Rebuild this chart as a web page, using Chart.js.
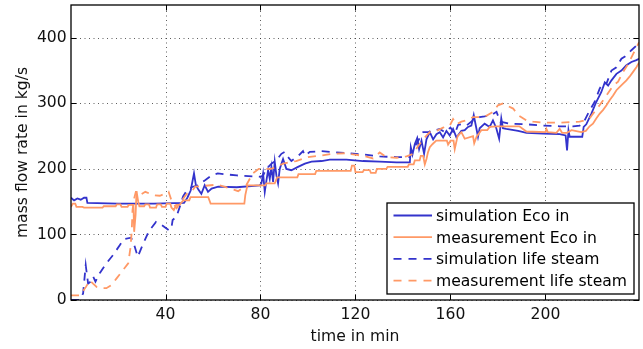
<!DOCTYPE html>
<html><head><meta charset="utf-8">
<script src="https://cdn.jsdelivr.net/npm/chart.js@4/dist/chart.umd.min.js"></script>
<style>html,body{margin:0;padding:0;background:#fff;}canvas{display:block;}</style>
</head><body>
<canvas id="c" width="643" height="349" style="width:643px;height:349px"></canvas>
<script>
// ---------- data ----------
const xTicks = [40, 80, 120, 160, 200];
const yTicks = [0, 100, 200, 300, 400];
const seriesNames = ['simulation Eco in', 'measurement Eco in', 'simulation life steam', 'measurement life steam'];

const simEcoT = [0.2,1.5,2.9,4.3,5.7,6.7,7.1,20,35,47.8,
  49.2,50.6,52,52.8,53.9,55.1,56.5,57.9,59.4,62.2,
  70,79.7,80.4,81.1,81.8,82.5,83.2,83.9,84.6,85.3,
  86,86.7,87.4,88.1,89.5,90.9,93,95.8,98.7,101.5,
  105.7,109.2,116.2,123.2,130.2,137.3,142.9,143.3,144,145,
  146,146.8,147.8,148.9,149.9,151.3,152.7,154.1,155.5,156.9,
  158.3,159.7,161.1,162.5,164.6,166,167.4,168.8,169.8,170.9,
  171.6,172.3,174.4,176.5,177.9,179.3,180.5,181.4,182.1,183.5,
  188.5,192,199,206,208.5,209.1,209.7,210.2,212.3,215.5,
  216.1,217.2,219.3,221.4,223.5,225,226.4,227.8,229.9,232,
  234.1,236.2,238.3,239.4];
const simEcoV = [156,152,155,153,156,156,148,147,147,148,
  156,167,193,175,168,162,175,165,170,173,
  172,175,178,193,165,182,198,185,203,180,
  211,190,178,200,215,200,198,203,208,211,
  212,214,214,212,211,210,210,233,222,238,
  247,230,243,223,245,256,245,253,256,248,
  258,251,261,248,258,259,264,266,282,262,
  249,262,269,264,274,262,246,277,262,261,
  258,255,254,253,251,228,259,249,249,249,
  264,268,284,302,317,332,327,335,345,350,
  358,363,366,368];

const measEcoT = [0.2,1,2,2.5,5,5.7,13.5,14,19,19.5,
  21,21.5,24,24.5,26.5,26.8,27.4,27.8,28.5,29,
  31,31.5,33,33.5,36,36.5,38,38.5,40,40.5,
  42,42.5,43.5,44.5,46,46.5,47.5,50,50.5,58,
  59,73.2,73.6,74.5,82,82.5,86,87,95.5,96,
  103,103.5,118,118.5,119.5,120,123,123.5,126,126.5,
  128.5,129,133,133.5,142,142.5,144.5,145,147,147.5,
  148.5,149.2,149.9,150.5,151.3,152.5,154,158.5,159,160,
  161.3,161.8,163,164.6,166,169.5,170,171,173,175.5,
  176.5,179.5,189,192,200,200.4,201,204.6,206,207,
  209,211,212.5,215.1,217,218.6,220,221.4,222.8,224.3,
  225.7,227.1,228.5,229.9,231.3,232.7,234.1,235.5,236.9,238.3,
  239.4];
const measEcoV = [142,147,147,142,142,141,141,143,143,146,
  146,142,142,145,145,104,130,166,150,143,
  143,146,146,141,141,146,146,142,142,147,
  147,141,137,145,145,148,152,152,157,157,
  147,147,160,175,175,178,178,187,187,192,
  192,197,197,205,205,195,195,198,198,194,
  194,200,200,203,203,207,207,213,213,220,
  220,207,215,225,233,238,243,243,237,243,
  243,230,250,256,246,250,239,249,259,259,
  264,265,265,257,256,261,256,255,261,255,
  255,259,258,256,258,265,269,277,284,290,
  297,305,312,320,325,330,335,341,348,355,
  362];

const simSteamT = [0.2,3.9,5.3,6.4,7.4,8.5,9.5,10.5,12.3,15.1,
  18,20.8,22.5,25.5,26.5,28.3,30.5,33,36,38.5,
  41.6,42.5,43,44.6,46,47.4,49,51,53.4,56.8,
  59.4,62,70,80,81.1,82.5,84.6,86.7,88.8,90.2,
  91.6,93,94.4,96.5,97.9,98.7,100.8,105.7,109.2,116.2,
  123.2,130.2,137.3,142.9,144.3,146.4,148.5,150.6,152.7,155.5,
  157.6,160,161.8,163.2,164.6,166.7,169.5,172.3,174.4,177.2,
  179.4,181,185,192,199,206,211.6,214.4,216.5,218.6,
  220.7,222.8,224.3,225.7,227.8,229.9,232,234.1,236.2,238.3,
  239.4];
const simSteamV = [0,0,10,53,25,28,36,28,41,56,
  69,84,93,95,88,66,85,105,119,114,
  106,110,122,127,142,158,167,172,175,183,
  190,193,190,188,190,200,208,213,223,226,
  218,212,216,222,227,220,226,227,226,224,
  222,219,218,218,230,243,256,256,258,261,
  256,263,253,267,268,266,274,279,280,282,
  287,272,269,268,266,265,265,266,274,289,
  302,322,332,330,350,355,368,373,381,388,
  386];

const measSteamT = [0.2,3.9,4.6,6.5,8.1,9.5,11,13,15.1,17.3,
  19.4,22.2,24.3,25.3,25.8,26.1,26.8,27.5,28.1,29.2,
  31.5,34.8,37.6,39.7,41.3,42.5,44.7,46.5,49,51,
  52.5,56,62,67.2,70.6,74,76.7,79.3,84.5,89.6,
  95,100,105,110,116.2,119,123.2,127.4,130.2,133,
  137.3,141.5,144.3,146.4,149.2,151.3,154.1,156.9,159.7,161.1,
  162.5,164.6,167.4,169.5,172.3,175.1,177.9,180,182.2,184.2,
  186.4,188.5,192,194.8,199,206,214.4,216.5,218.6,220,
  222.8,225.7,228.5,230.6,232.7,234.8,236.9,239.4];
const measSteamV = [7,7,10,20,30,25,20,18,18,23,
  33,46,56,81,107,137,155,165,165,160,
  165,160,159,162,165,152,140,150,162,165,
  173,174,176,170,166,175,193,200,200,208,
  212,218,220,223,224,222,220,216,225,218,
  217,219,223,235,248,256,258,263,266,276,
  268,272,275,279,279,281,287,297,300,296,
  292,282,274,272,270.5,270.5,272,274,277,284,
  297,312,327,333,348,360,375,393];

// ---------- styling ----------
const BLUE = '#3333cc', ORANGE = '#ff9966';
const FONT = '"DejaVu Sans", "Liberation Sans", sans-serif';
const FS = 15.6;
const DASH = [8, 6.5];

function pts(t, v) { return t.map((x, i) => ({ x: x, y: v[i] })); }

const gridPlugin = {
  id: 'mgrid',
  beforeDatasetsDraw(chart) {
    const { ctx, chartArea: a, scales: { x, y } } = chart;
    ctx.save();
    ctx.strokeStyle = 'rgba(40,40,40,0.75)';
    ctx.lineWidth = 1;
    ctx.setLineDash([1, 3.5]);
    ctx.beginPath();
    xTicks.forEach(v => { const p = Math.round(x.getPixelForValue(v)) + 0.5; ctx.moveTo(p, a.bottom); ctx.lineTo(p, a.top); });
    yTicks.forEach(v => { const p = Math.round(y.getPixelForValue(v)) + 0.5; ctx.moveTo(a.left, p); ctx.lineTo(a.right, p); });
    ctx.stroke();
    ctx.restore();
  },
  afterDatasetsDraw(chart) {
    const { ctx, chartArea: a, scales: { x, y } } = chart;
    ctx.save();
    ctx.strokeStyle = '#000';
    ctx.lineWidth = 1.3;
    ctx.strokeRect(a.left, a.top, a.right - a.left, a.bottom - a.top);
    ctx.lineWidth = 1;
    ctx.beginPath();
    const tl = 5.5;
    xTicks.forEach(v => { const p = Math.round(x.getPixelForValue(v)) + 0.5; ctx.moveTo(p, a.bottom); ctx.lineTo(p, a.bottom - tl); ctx.moveTo(p, a.top); ctx.lineTo(p, a.top + tl); });
    yTicks.forEach(v => { const p = Math.round(y.getPixelForValue(v)) + 0.5; ctx.moveTo(a.left, p); ctx.lineTo(a.left + tl, p); ctx.moveTo(a.right, p); ctx.lineTo(a.right - tl, p); });
    ctx.stroke();
    ctx.restore();
  }
};

const legendPlugin = {
  id: 'boxLegend',
  afterDraw(chart) {
    const { ctx, chartArea: a } = chart;
    const R = a.right - 5, B = a.bottom - 6, L = R - 247, T = B - 91;
    ctx.save();
    ctx.fillStyle = '#fff';
    ctx.fillRect(L, T, R - L, B - T);
    ctx.strokeStyle = '#000';
    ctx.lineWidth = 1.3;
    ctx.strokeRect(L, T, R - L, B - T);
    const rowH = 21.7, y0 = T + 12.5;
    chart.data.datasets.forEach((ds, i) => {
      const yy = y0 + i * rowH;
      ctx.beginPath();
      ctx.setLineDash(ds.borderDash ? [8, 7] : []);
      ctx.strokeStyle = ds.borderColor;
      ctx.lineWidth = ds.borderWidth;
      ctx.moveTo(L + 6.5, yy); ctx.lineTo(L + 45, yy);
      ctx.stroke();
      ctx.setLineDash([]);
      ctx.fillStyle = '#000';
      ctx.font = FS + 'px ' + FONT;
      ctx.textBaseline = 'middle';
      ctx.textAlign = 'left';
      ctx.fillText(ds.label, L + 49, yy + 1.5);
    });
    ctx.restore();
  }
};

new Chart(document.getElementById('c'), {
  type: 'line',
  data: {
    datasets: [
      { label: seriesNames[0], data: pts(simEcoT, simEcoV), borderColor: BLUE, borderWidth: 1.8, order: 4 },
      { label: seriesNames[1], data: pts(measEcoT, measEcoV), borderColor: ORANGE, borderWidth: 1.8, order: 3 },
      { label: seriesNames[2], data: pts(simSteamT, simSteamV), borderColor: BLUE, borderWidth: 1.8, borderDash: DASH, order: 2 },
      { label: seriesNames[3], data: pts(measSteamT, measSteamV), borderColor: ORANGE, borderWidth: 1.8, borderDash: DASH, order: 1 }
    ]
  },
  options: {
    responsive: false,
    animation: false,
    devicePixelRatio: 1,
    elements: { point: { radius: 0 }, line: { tension: 0, fill: false } },
    layout: { padding: { top: 5, right: 4, left: 0, bottom: 0 } },
    plugins: { legend: { display: false }, tooltip: { enabled: false } },
    scales: {
      x: {
        type: 'linear', min: 0.2, max: 239.4,
        afterBuildTicks: s => { s.ticks = xTicks.map(v => ({ value: v })); },
        afterFit: s => { s.height = 49; s.paddingLeft = 0; s.paddingRight = 0; },
        grid: { display: false, drawTicks: false },
        border: { display: false },
        ticks: { color: '#111', font: { family: FONT, size: FS, lineHeight: 1 }, padding: 7.2, maxRotation: 0, autoSkip: false },
        title: { display: true, text: 'time in min', color: '#111', font: { family: FONT, size: FS, lineHeight: 1 }, padding: { top: 0, bottom: 4 } }
      },
      y: {
        type: 'linear', min: 0, max: 450,
        afterBuildTicks: s => { s.ticks = yTicks.map(v => ({ value: v })); },
        afterFit: s => { s.width = 71; s.paddingTop = 0; s.paddingBottom = 0; },
        grid: { display: false, drawTicks: false },
        border: { display: false },
        ticks: { color: '#111', font: { family: FONT, size: FS }, padding: 4.3, autoSkip: false },
        title: { display: true, text: 'mass flow rate in kg/s', color: '#111', font: { family: FONT, size: FS, lineHeight: 1 }, padding: { top: 14.7, bottom: 0 } }
      }
    }
  },
  plugins: [gridPlugin, legendPlugin]
});
</script>
</body></html>
